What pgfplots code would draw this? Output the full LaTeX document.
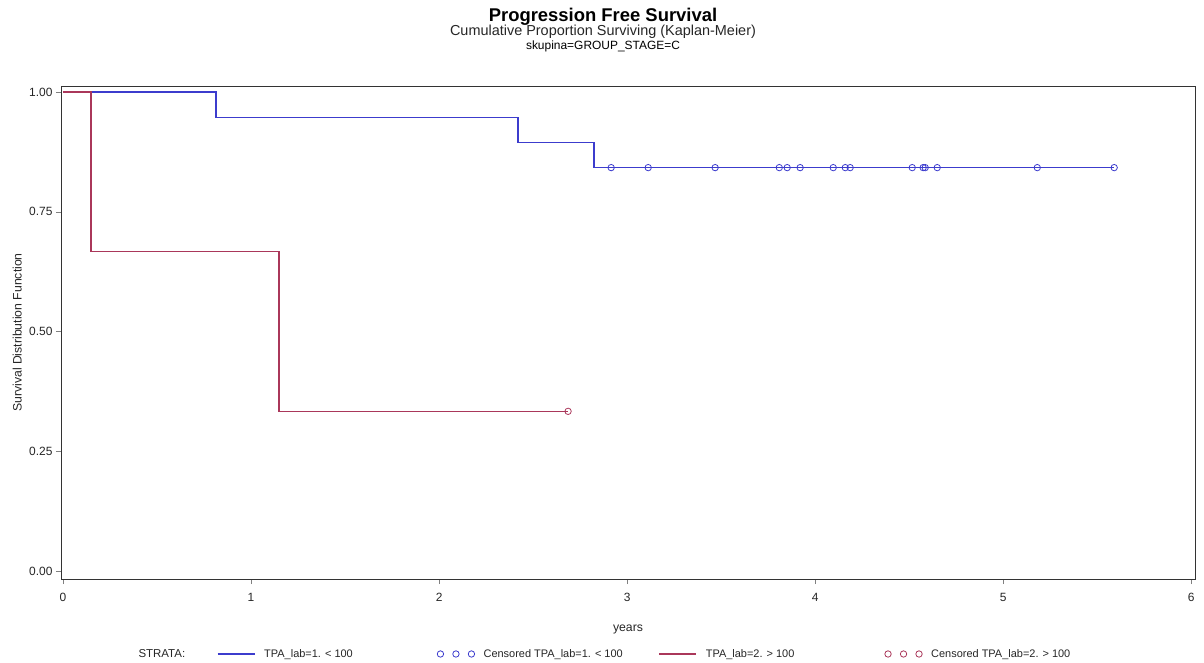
\documentclass[border=0pt]{standalone}
\usepackage{pgfplots}
\pgfplotsset{compat=1.18}
\usepackage{fontspec}
\setmainfont{Liberation Sans}
\definecolor{kmblue}{RGB}{60,60,205}
\definecolor{kmred}{RGB}{170,55,90}
\pgfplotsset{
  kmline legend/.style={legend image code/.code={\draw[##1] (0bp,0bp) -- (37bp,0bp);}},
  kmcens legend/.style={legend image code/.code={\draw[##1] plot coordinates {(3bp,0bp) (18.5bp,0bp) (34bp,0bp)};}},
}
\begin{document}
\begin{tikzpicture}
\useasboundingbox (-61bp,-84bp) rectangle (1143bp,579bp);
\begin{axis}[
  scale only axis,
  width=1134bp, height=493bp,
  xmin=-0.0106, xmax=6.02,
  ymin=-0.0167, ymax=1.0125,
  xtick={0,1,2,3,4,5,6},
  ytick={0,0.25,0.5,0.75,1},
  yticklabel style={/pgf/number format/.cd,fixed,fixed zerofill,precision=2},
  /pgf/number format/assume math mode=true,
  tick label style={font=\fontsize{12}{14}\selectfont, text=black!85},
  xticklabel style={yshift=-6bp},
  tick align=outside, tick pos=left,
  major tick length=5bp,
  axis line style={black!80},
  xlabel={years},
  ylabel={Survival Distribution Function},
  label style={font=\fontsize{12.3}{14}\selectfont, text=black!85},
  xlabel style={at={(axis description cs:0.5,-0.1014)}, anchor=center},
  ylabel style={at={(axis description cs:-0.0385,0.5)}, anchor=center},
  legend columns=4,
  legend cell align=left,
  legend style={at={(axis description cs:0.1376,-0.1521)}, anchor=west,
    draw=none, fill=none, inner sep=0pt, outer sep=0pt,
    nodes={inner sep=0pt, font=\fontsize{11}{13}\selectfont, text=black!85},
    /tikz/every odd column/.style={column sep=9bp},
    /tikz/every even column/.style={column sep=0bp}},
]
\addplot[color=kmblue, line width=1.2pt, const plot, kmline legend]
  coordinates {(0,1) (0.814,0.9474) (2.42,0.8947) (2.824,0.8421) (5.59,0.8421)};
\addlegendentry{\makebox[173bp][l]{TPA\_lab=1. < 100}}
\addplot[color=kmblue, only marks, mark=o, mark size=3.2bp, mark options={line width=0.8pt}, kmcens legend]
  coordinates {(2.915,0.8421) (3.112,0.8421) (3.468,0.8421) (3.809,0.8421) (3.851,0.8421)
    (3.920,0.8421) (4.096,0.8421) (4.160,0.8421) (4.186,0.8421) (4.516,0.8421)
    (4.574,0.8421) (4.585,0.8421) (4.649,0.8421) (5.181,0.8421) (5.590,0.8421)};
\addlegendentry{\makebox[175bp][l]{Censored TPA\_lab=1. < 100}}
\addplot[color=kmred, line width=1.2pt, const plot, kmline legend]
  coordinates {(0,1) (0.149,0.6667) (1.149,0.3333) (2.686,0.3333)};
\addlegendentry{\makebox[179bp][l]{TPA\_lab=2. > 100}}
\addplot[color=kmred, only marks, mark=o, mark size=3.2bp, mark options={line width=0.8pt}, kmcens legend]
  coordinates {(2.686,0.3333)};
\addlegendentry{Censored TPA\_lab=2. > 100}
\end{axis}
\node[anchor=west, font=\fontsize{11.5}{13}\selectfont, text=black!85] at (74bp,-75bp) {STRATA:};
\node[anchor=base, font=\fontsize{18.5}{20}\selectfont\bfseries] at (542bp,557bp) {Progression Free Survival};
\node[anchor=base, font=\fontsize{14.5}{16}\selectfont, text=black!85] at (542bp,543bp) {Cumulative Proportion Surviving (Kaplan-Meier)};
\node[anchor=base, font=\fontsize{12}{14}\selectfont] at (542bp,529bp) {skupina=GROUP\_STAGE=C};
\end{tikzpicture}
\end{document}
